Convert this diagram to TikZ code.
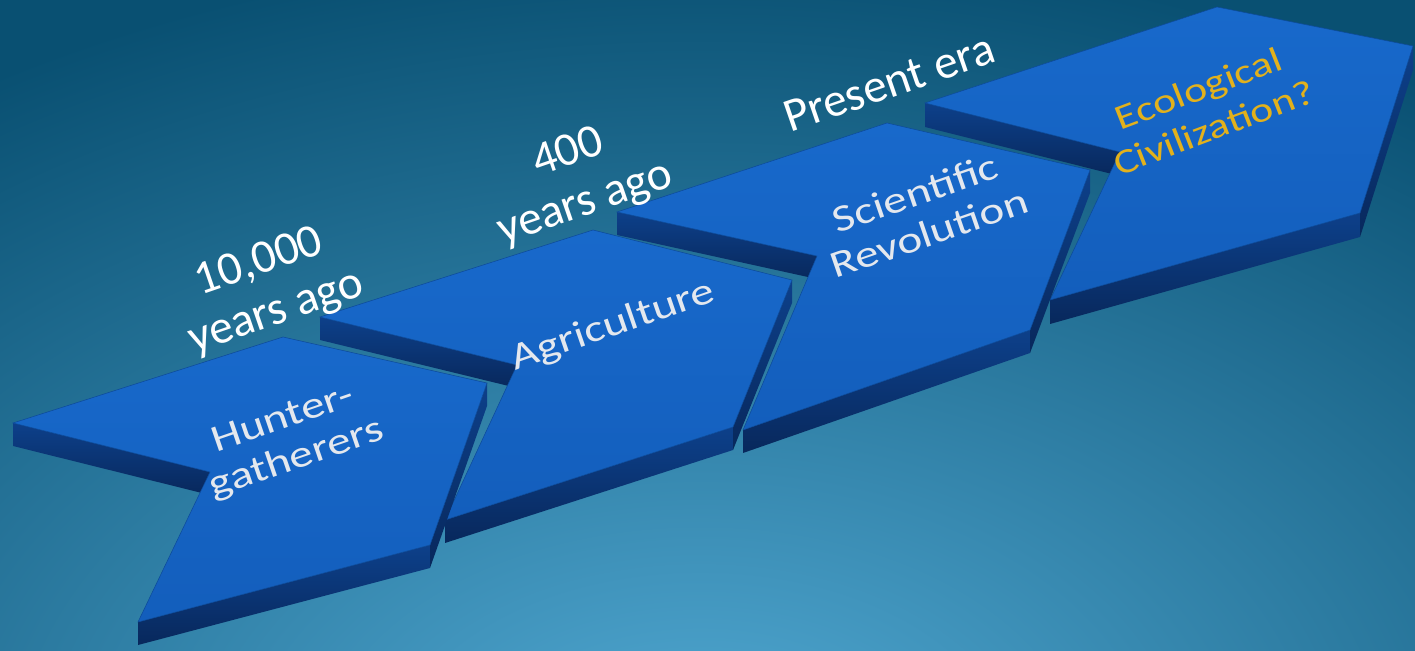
\documentclass[tikz,border=0pt]{standalone}
\usepackage{fontspec}
\setmainfont{Carlito}
\definecolor{bgdark}{HTML}{095072}
\definecolor{bglight}{HTML}{52AAD4}
\definecolor{stepTop}{HTML}{135EBC}
\definecolor{stepTopLight}{HTML}{1869CB}
\definecolor{stepSide}{HTML}{0D408A}
\definecolor{stepSideDark}{HTML}{08285C}
\definecolor{stepEdge}{HTML}{0D4A9A}
\definecolor{labelWhite}{HTML}{E4E8EE}
\definecolor{ecoGold}{HTML}{E2B11C}

% one chevron from the coordinates p1..p6, #1 = thickness
\newcommand{\stepbody}[1]{%
  \shade[sideface] (p1) -- (p6) -- ([yshift=-#1]p6) -- ([yshift=-#1]p1) -- cycle;
  \shade[sideface] (p5) -- (p4) -- ([yshift=-#1]p4) -- ([yshift=-#1]p5) -- cycle;
  \shade[sideface] (p4) -- (p3) -- ([yshift=-#1]p3) -- ([yshift=-#1]p4) -- cycle;
  \shade[topface] (p1) -- (p2) -- (p3) -- (p4) -- (p5) -- (p6) -- cycle;
}

\begin{document}
\begin{tikzpicture}[x=0.02cm, y=-0.02cm,
    topface/.style={top color=stepTopLight, bottom color=stepTop, draw=stepEdge, line width=0.3pt},
    sideface/.style={top color=stepSide, bottom color=stepSideDark},
    yearlabel/.style={font=\fontsize{27}{30}\selectfont, text=white, align=center, rotate=19},
    steplabel/.style={font=\fontsize{27}{30}\selectfont, text=labelWhite, align=center, rotate=19, yscale=0.8}]
    \useasboundingbox (0,0) rectangle (1415,651);
    % Background
    \begin{scope}
        \clip (0,0) rectangle (1415,651);
        \fill[bgdark] (0,0) rectangle (1415,651);
        \shade[inner color=bglight, outer color=bgdark] (700,770) ellipse (26cm and 16.5cm);
    \end{scope}

    % Step 4
    \begin{scope}
        \coordinate (p1) at (925,103); \coordinate (p2) at (1217,7);
        \coordinate (p3) at (1413,46); \coordinate (p4) at (1360,213);
        \coordinate (p5) at (1050,300); \coordinate (p6) at (1120,152);
        \stepbody{0.48cm}
    \end{scope}
    % Step 3
    \begin{scope}
        \coordinate (p1) at (617,212); \coordinate (p2) at (887,123);
        \coordinate (p3) at (1090,170); \coordinate (p4) at (1030,330);
        \coordinate (p5) at (743,430); \coordinate (p6) at (817,256);
        \stepbody{0.46cm}
    \end{scope}
    % Step 2
    \begin{scope}
        \coordinate (p1) at (320,317); \coordinate (p2) at (593,230);
        \coordinate (p3) at (792,280); \coordinate (p4) at (733,427);
        \coordinate (p5) at (445,520); \coordinate (p6) at (517,365);
        \stepbody{0.46cm}
    \end{scope}
    % Step 1
    \begin{scope}
        \coordinate (p1) at (13,423); \coordinate (p2) at (283,337);
        \coordinate (p3) at (487,383); \coordinate (p4) at (430,545);
        \coordinate (p5) at (138,622); \coordinate (p6) at (210,472);
        \stepbody{0.46cm}
    \end{scope}

    % Labels on the steps
    \node[steplabel] (hunters) at (290,440) {Hunter-\\gatherers};
    \node[steplabel] (agri) at (613,326) {Agriculture};
    \node[steplabel] (science) at (922,213) {Scientific\\Revolution};
    \node[steplabel, text=ecoGold, rotate=2, font=\fontsize{25}{30}\selectfont] (eco) at (1206,108) {Ecological\\Civilization?};

    % Time labels
    \node[yearlabel] (ago10000) at (268,288) {10,000\\years ago};
    \node[yearlabel] (ago400) at (577,179) {400\\years ago};
    \node[yearlabel] (present) at (889,83) {Present era};
\end{tikzpicture}
\end{document}
